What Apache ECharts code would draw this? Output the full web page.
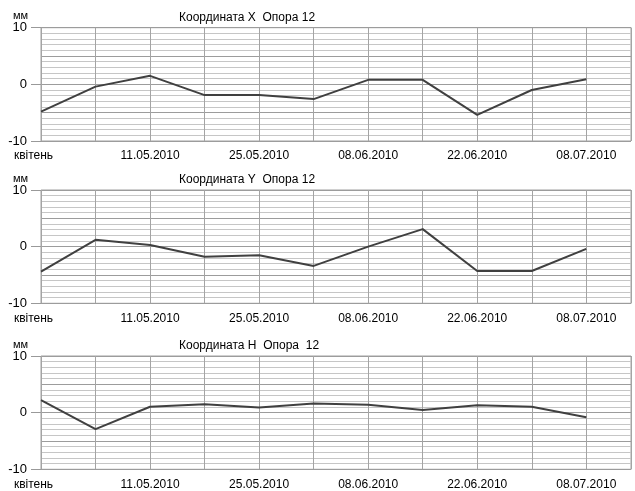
<!DOCTYPE html>
<html>
<head>
<meta charset="utf-8">
<script src="https://cdn.jsdelivr.net/npm/echarts@6/dist/echarts.min.js"></script>
<style>
html,body{margin:0;padding:0;background:#fff;}
#chart{width:635px;height:491px;}
</style>
</head>
<body>
<div id="chart"></div>
<script>
// ---- data ----
const xLabels = ['квітень', '', '11.05.2010', '', '25.05.2010', '', '08.06.2010', '', '22.06.2010', '', '08.07.2010'];
const seriesX = [-4.8, -0.4, 1.5, -1.9, -1.9, -2.6, 0.8, 0.8, -5.4, -1.0, 0.9];
const seriesY = [-4.4, 1.2, 0.3, -1.8, -1.5, -3.4, 0.0, 3.1, -4.3, -4.3, -0.4];
const seriesH = [2.2, -2.9, 1.05, 1.5, 0.9, 1.6, 1.4, 0.45, 1.3, 1.05, -0.8];
const titles = ['Координата X  Опора 12', 'Координата Y  Опора 12', 'Координата H  Опора  12'];
const unitLabel = 'мм';
const yTickLabels = [-10, 0, 10];

const FONT = '"Liberation Sans", Arial, sans-serif';
const allSeries = [seriesX, seriesY, seriesH];
const gridTops = [27.7, 190, 356];
const gridH = 113.3;

const chart = echarts.init(document.getElementById('chart'), null, {renderer: 'canvas'});

const grid = [], xAxis = [], yAxis = [], series = [], graphic = [];
gridTops.forEach((top, i) => {
  grid.push({left: 41, right: 4, top: top, height: gridH, show: true,
    containLabel: false, outerBoundsMode: 'none',
    borderColor: '#a0a0a0', borderWidth: 1, backgroundColor: 'transparent'});
  xAxis.push({
    gridIndex: i, type: 'value', min: 0, max: 10.82, interval: 1, position: 'bottom',
    axisLine: {show: false}, axisTick: {show: false},
    splitLine: {show: true, lineStyle: {color: '#a4a4a4', width: 1}},
    axisLabel: {
      margin: 9, color: '#000', fontFamily: FONT, fontSize: 12,
      formatter: function (v) {
        const k = Math.round(v);
        if (Math.abs(v - k) > 1e-6) return '';
        const t = xLabels[k];
        if (!t) return '';
        return k === 0 ? '{a|' + t + '}' : t;
      },
      rich: {a: {padding: [0, 15, 0, 0], color: '#000', fontFamily: FONT, fontSize: 12}}
    }
  });
  yAxis.push({
    gridIndex: i, type: 'value', min: -10, max: 10, interval: 1, position: 'left',
    axisLine: {show: false}, axisTick: {show: false}, axisLabel: {show: false},
    splitLine: {show: true, lineStyle: {width: 1,
      color: ['#9c9c9c', '#c6c6c6', '#c6c6c6', '#c6c6c6', '#c6c6c6']}}
  });
  yAxis.push({
    gridIndex: i, type: 'value', min: -10, max: 10, interval: 10, position: 'left', offset: 0,
    axisLine: {show: false},
    axisTick: {show: true, length: 10, lineStyle: {color: '#999'}},
    axisLabel: {margin: 14, color: '#000', fontFamily: FONT, fontSize: 13,
      formatter: v => yTickLabels.indexOf(v) >= 0 ? String(v) : ''},
    splitLine: {show: false}
  });
  series.push({
    type: 'line', xAxisIndex: i, yAxisIndex: 2 * i,
    data: allSeries[i].map((v, k) => [k, v]),
    symbol: 'none', silent: true,
    lineStyle: {color: '#404040', width: 2}
  });
  graphic.push({type: 'text', x: 179, y: top - 10.5, silent: true,
    style: {text: titles[i], fill: '#000', font: '12px ' + FONT, textAlign: 'left', textVerticalAlign: 'middle'}});
  graphic.push({type: 'text', x: 13, y: top - 11.5, silent: true,
    style: {text: unitLabel, fill: '#000', font: '11px ' + FONT, textAlign: 'left', textVerticalAlign: 'middle'}});
});

chart.setOption({
  animation: false,
  backgroundColor: '#fff',
  grid, xAxis, yAxis, series, graphic
});
</script>
</body>
</html>
